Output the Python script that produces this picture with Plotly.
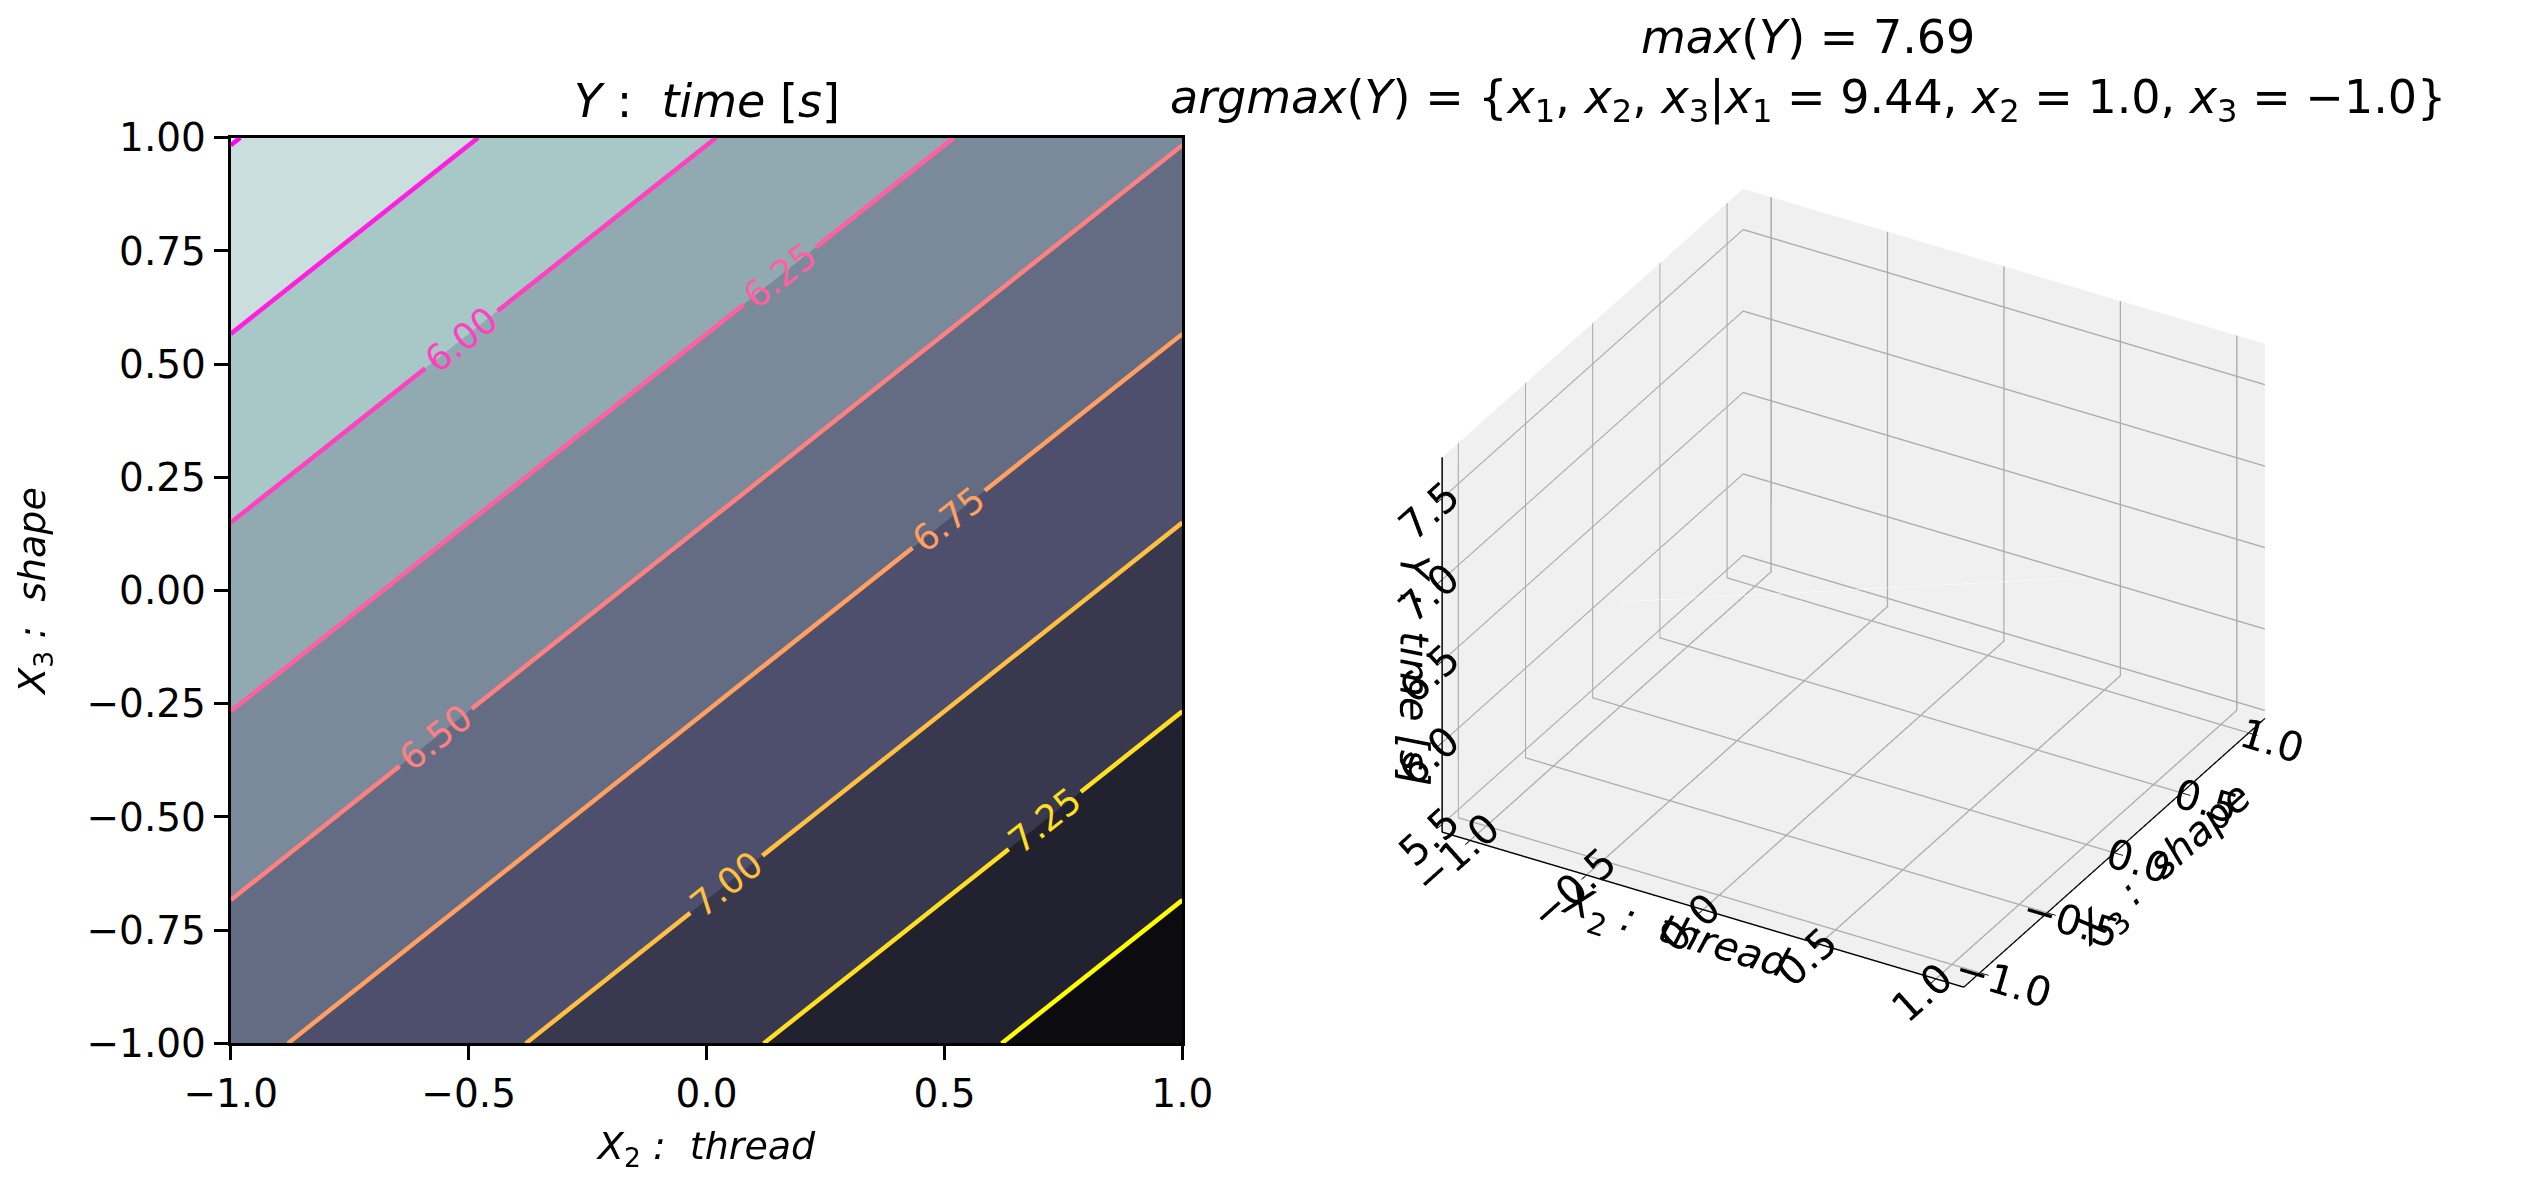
import plotly.graph_objects as go

# ---------------- data ----------------
x2_vals = [-1.0, -0.5, 0.0, 0.5, 1.0]          # X2 : thread
x3_vals = [-1.0, -0.5, 0.0, 0.5, 1.0]          # X3 : shape
# Y : time [s]  (rows follow x3_vals, columns follow x2_vals)
time_grid = [
    [6.69, 6.94, 7.19, 7.44, 7.69],
    [6.39, 6.64, 6.89, 7.14, 7.39],
    [6.09, 6.34, 6.59, 6.84, 7.09],
    [5.79, 6.04, 6.29, 6.54, 6.79],
    [5.49, 5.74, 5.99, 6.24, 6.49],
]
level_start = 5.5
level_end = 7.5
level_step = 0.25

tick_vals = [-1.0, -0.5, 0.0, 0.5, 1.0]
y_tick_vals = [-1.0, -0.75, -0.5, -0.25, 0.0, 0.25, 0.5, 0.75, 1.0]
z_tick_vals = [5.5, 6.0, 6.5, 7.0, 7.5]

max_y = 7.69
argmax_x1 = 9.44
argmax_x2 = 1.0
argmax_x3 = -1.0

# ---------------- styles ----------------
FONT = "DejaVu Sans"
# filled bands (bone_r), lowest band first
fill_colors = [
    "rgb(238,244,244)", "rgb(203,222,222)", "rgb(168,199,199)", "rgb(145,169,177)",
    "rgb(123,138,155)", "rgb(100,108,132)", "rgb(78,78,109)", "rgb(56,56,78)",
    "rgb(33,33,47)", "rgb(11,11,16)",
]
fill_scale = [[i / (len(fill_colors) - 1), c] for i, c in enumerate(fill_colors)]
line_scale = [[0.0, "rgb(255,0,255)"], [1.0, "rgb(255,255,0)"]]  # spring

fig = go.Figure()

fig.add_trace(go.Contour(
    x=x2_vals, y=x3_vals, z=time_grid,
    autocontour=False,
    contours=dict(start=level_start, end=level_end, size=level_step,
                  coloring="fill", showlines=False),
    colorscale=fill_scale, showscale=False, line=dict(width=0),
    hoverinfo="skip",
))
fig.add_trace(go.Contour(
    x=x2_vals, y=x3_vals, z=time_grid,
    autocontour=False,
    contours=dict(start=level_start, end=level_end, size=level_step,
                  coloring="lines", showlabels=True, labelformat=".2f",
                  labelfont=dict(family=FONT, size=36)),
    colorscale=line_scale, zmin=level_start, zmax=level_end, zauto=False,
    showscale=False, line=dict(width=4.5),
    hoverinfo="skip",
))

# faint line inside the 3-D box (row x3 = 0 of the grid)
mid = x3_vals.index(0.0)
fig.add_trace(go.Scatter3d(
    x=x2_vals, y=[x3_vals[mid]] * len(x2_vals), z=time_grid[mid],
    mode="lines", line=dict(color="white", width=1),
    showlegend=False, hoverinfo="skip", scene="scene",
))

axis_common = dict(
    showline=True, linecolor="black", linewidth=3, mirror=True,
    ticks="outside", ticklen=14, tickwidth=3, tickcolor="black",
    showgrid=False, zeroline=False, automargin=False,
    tickfont=dict(family=FONT, size=39, color="black"),
)

scene_axis = dict(
    showbackground=True, backgroundcolor="rgb(240,240,240)",
    gridcolor="rgb(172,172,172)", gridwidth=3,
    showline=True, linecolor="black", linewidth=3,
    ticks="outside", ticklen=10, tickcolor="black", tickwidth=2,
    tickfont=dict(family=FONT, size=22, color="black"),
    zeroline=False, showspikes=False,
)

fig.update_layout(
    width=2531, height=1184,
    margin=dict(l=0, r=0, t=0, b=0),
    paper_bgcolor="white", plot_bgcolor="white",
    font=dict(family=FONT, color="black"),
    showlegend=False,
    xaxis=dict(domain=[0.088, 0.4640], range=[-1, 1], tickvals=tick_vals,
               tickformat=".1f",
               title=dict(text="<i>X</i><sub>2</sub><i> :  thread</i>",
                          font=dict(family=FONT, size=38), standoff=18),
               **axis_common),
    yaxis=dict(domain=[0.1255, 0.8905], range=[-1, 1], tickvals=y_tick_vals,
               tickformat=".2f",
               title=dict(text="<i>X</i><sub>3</sub><i> :  shape</i>",
                          font=dict(family=FONT, size=38), standoff=30),
               **axis_common),
    scene=dict(
        domain=dict(x=[0.519, 0.939], y=[0.06, 0.96]),
        xaxis=dict(range=[-1.12, 1.12], tickvals=tick_vals, tickformat=".1f",
                   title=dict(text="<i>X</i><sub>2</sub><i> :  thread</i>",
                              font=dict(family=FONT, size=40)),
                   **scene_axis),
        yaxis=dict(range=[-1.12, 1.12], tickvals=tick_vals, tickformat=".1f",
                   title=dict(text="<i>X</i><sub>3</sub><i> :  shape</i>",
                              font=dict(family=FONT, size=40)),
                   **scene_axis),
        zaxis=dict(range=[5.45, 7.75], tickvals=z_tick_vals, tickformat=".1f",
                   title=dict(text="<i>Y</i><i> :  time [s]</i>",
                              font=dict(family=FONT, size=40)),
                   **scene_axis),
        aspectmode="manual", aspectratio=dict(x=1.13, y=1.13, z=0.82),
        camera=dict(eye=dict(x=0.857, y=-1.485, z=1.03),
                    center=dict(x=0, y=0, z=0),
                    up=dict(x=0, y=0, z=1),
                    projection=dict(type="orthographic")),
    ),
    annotations=[
        dict(text="<i>Y</i> :  <i>time</i> [<i>s</i>]", xref="paper", yref="paper",
             x=0.276, y=0.8905, xanchor="center", yanchor="bottom", yshift=8,
             showarrow=False, font=dict(family=FONT, size=46, color="black")),
        dict(text=(f"<i>max</i>(<i>Y</i>) = {max_y:.2f}<br>"
                   f"<i>argmax</i>(<i>Y</i>) = {{<i>x</i><sub>1</sub>, <i>x</i><sub>2</sub>, "
                   f"<i>x</i><sub>3</sub>|<i>x</i><sub>1</sub> = {argmax_x1:.2f}, "
                   f"<i>x</i><sub>2</sub> = {argmax_x2:.1f}, "
                   f"<i>x</i><sub>3</sub> = \u2212{abs(argmax_x3):.1f}}}"),
             xref="paper", yref="paper", x=0.711, y=1.0,
             xanchor="center", yanchor="top", align="center",
             showarrow=False, font=dict(family=FONT, size=46, color="black")),
    ],
)

fig.write_html("out.html")
